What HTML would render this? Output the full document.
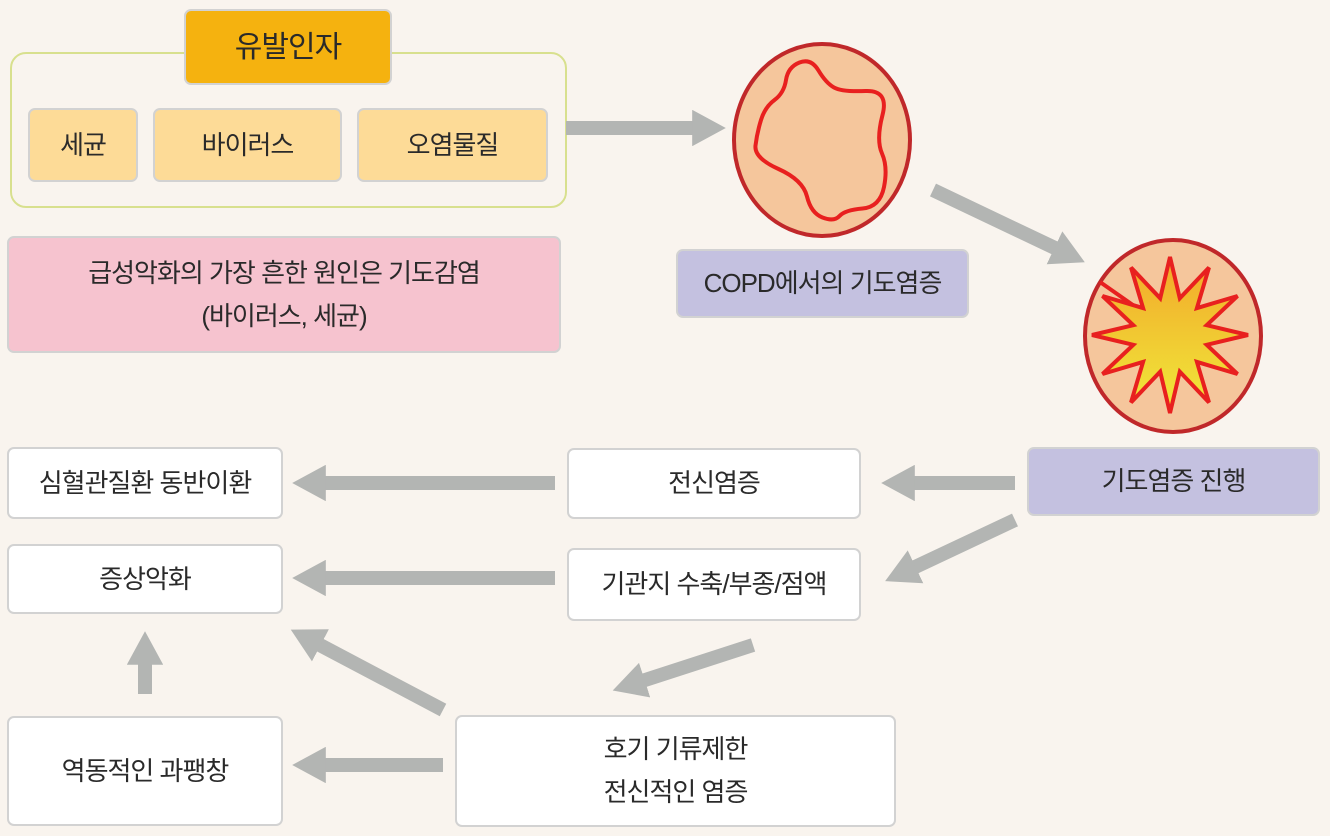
<!DOCTYPE html>
<html><head><meta charset="utf-8"><style>
body{margin:0;width:1330px;height:836px;background:#f9f4ee;position:relative;overflow:hidden;font-family:"Liberation Sans","Noto Sans CJK KR",sans-serif;color:#2a2a2a}
.b{position:absolute;box-sizing:border-box;border:2px solid #d2d2d2;border-radius:7px;display:flex;align-items:center;justify-content:center;text-align:center;font-size:26px;line-height:43px;letter-spacing:-1px}
.w{background:#fff}
svg{position:absolute;left:0;top:0}
</style></head><body>
<div class="b" style="left:10px;top:52px;width:557px;height:156px;border-color:#d8e08e;border-radius:16px;background:transparent"></div>
<svg width="1330" height="836">
<defs><marker id="a" markerWidth="2.4" markerHeight="2.6" refX="0.2" refY="1.3" orient="auto"><polygon points="0,0 2.4,1.3 0,2.6" fill="#b3b5b3"/></marker></defs>
<g stroke="#b3b5b3" stroke-width="14" marker-end="url(#a)">
<line x1="566" y1="128" x2="695" y2="128"/>
<line x1="933" y1="190" x2="1057" y2="249"/>
<line x1="1015" y1="483" x2="912" y2="483"/>
<line x1="555" y1="483" x2="323" y2="483"/>
<line x1="1015" y1="520" x2="913" y2="568"/>
<line x1="555" y1="578" x2="323" y2="578"/>
<line x1="753" y1="645" x2="642" y2="681"/>
<line x1="443" y1="710" x2="318" y2="644"/>
<line x1="443" y1="765" x2="323" y2="765"/>
<line x1="145" y1="694" x2="145" y2="662"/>
</g>
<ellipse cx="822" cy="140" rx="88" ry="96" fill="#f5c69c" stroke="#c0282a" stroke-width="4"/>
<path d="M818.5,70.5 Q826,83 834,87.5 Q842,92 865.5,91 Q889,90 882.5,115 Q876,140 882,153.5 Q888,167 884,187 Q880,207 862.5,208.5 Q845,210 839.5,216 Q834,222 822.5,217.5 Q811,213 807,196.5 Q803,180 778.5,169 Q754,158 755.5,145.5 Q757,133 761,120 Q765,107 774.5,100 Q784,93 786,80 Q788,67 799.5,62.5 Q811,58 818.5,70.5Z" fill="none" stroke="#e8201f" stroke-width="4" stroke-linejoin="round"/>
<defs><linearGradient id="g" x1="0" y1="0" x2="0" y2="1"><stop offset="0" stop-color="#f2a72a"/><stop offset="1" stop-color="#f0ea3a"/></linearGradient></defs>
<ellipse cx="1173" cy="336" rx="88" ry="96" fill="#f5c69c" stroke="#c0282a" stroke-width="4"/>
<line x1="1100" y1="282" x2="1140" y2="310" stroke="#e8201f" stroke-width="4"/>
<polygon points="1248,335 1206.7,344.8 1237.5,374 1196.9,361.9 1209,402.5 1179.8,371.7 1170,413 1160.2,371.7 1131,402.5 1143.1,361.9 1102.5,374 1133.3,344.8 1092,335 1133.3,325.2 1102.5,296 1143.1,308.1 1131,267.5 1160.2,298.3 1170,257 1179.8,298.3 1209,267.5 1196.9,308.1 1237.5,296 1206.7,325.2" fill="url(#g)" stroke="#e8201f" stroke-width="4" stroke-linejoin="miter"/>
</svg>
<div class="b" style="left:184px;top:9px;width:208px;height:76px;background:#f5b20f;font-size:30px">유발인자</div>
<div class="b" style="left:28px;top:108px;width:110px;height:74px;background:#fddb97">세균</div>
<div class="b" style="left:153px;top:108px;width:189px;height:74px;background:#fddb97">바이러스</div>
<div class="b" style="left:357px;top:108px;width:191px;height:74px;background:#fddb97">오염물질</div>
<div class="b" style="left:7px;top:236px;width:554px;height:117px;background:#f6c3cf">급성악화의 가장 흔한 원인은 기도감염<br>(바이러스, 세균)</div>
<div class="b" style="left:676px;top:249px;width:293px;height:69px;background:#c4c1e0">COPD에서의 기도염증</div>
<div class="b" style="left:1027px;top:447px;width:293px;height:69px;background:#c4c1e0">기도염증 진행</div>
<div class="b w" style="left:567px;top:448px;width:294px;height:71px">전신염증</div>
<div class="b w" style="left:7px;top:447px;width:276px;height:72px">심혈관질환 동반이환</div>
<div class="b w" style="left:7px;top:544px;width:276px;height:70px">증상악화</div>
<div class="b w" style="left:567px;top:548px;width:294px;height:73px">기관지 수축/부종/점액</div>
<div class="b w" style="left:455px;top:715px;width:441px;height:112px">호기 기류제한<br>전신적인 염증</div>
<div class="b w" style="left:7px;top:716px;width:276px;height:110px">역동적인 과팽창</div>
</body></html>
